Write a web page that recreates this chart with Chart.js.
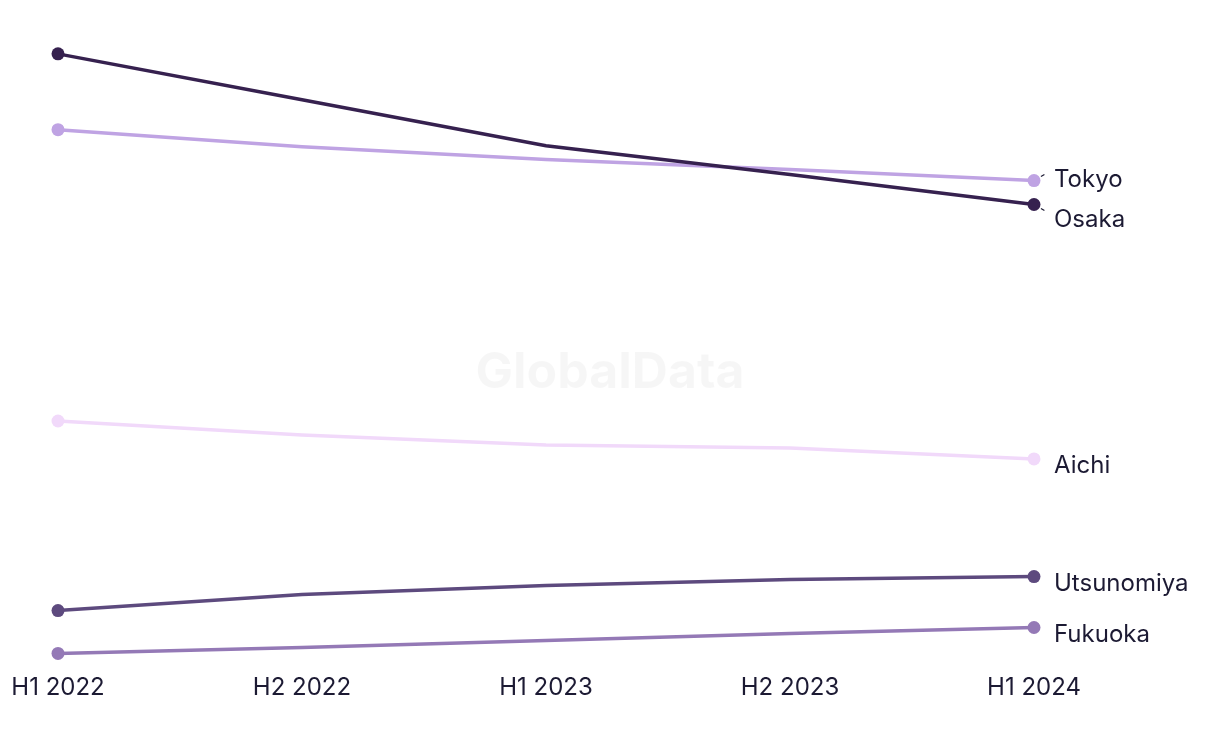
<!DOCTYPE html>
<html>
<head>
<meta charset="utf-8">
<script src="https://cdn.jsdelivr.net/npm/chart.js@4/dist/chart.umd.min.js"></script>
<style>
  html, body { margin: 0; padding: 0; background: #ffffff; }
  #wrap { width: 1220px; height: 744px; position: relative; }
</style>
</head>
<body>
<div id="wrap"><canvas id="c"></canvas></div>
<script>
const categories = ["H1 2022", "H2 2022", "H1 2023", "H2 2023", "H1 2024"];
const seriesNames = ["Osaka", "Tokyo", "Aichi", "Utsunomiya", "Fukuoka"];
const osaka = [612, 566, 520, 491, 461];
const tokyo = [536, 519, 506, 496, 485];
const aichi = [244, 230, 220, 217, 206];
const utsunomiya = [54, 70, 79, 85, 88];
const fukuoka = [11, 17, 24, 31, 37];
const seriesValues = [osaka, tokyo, aichi, utsunomiya, fukuoka];
const seriesColors = ["#36214f", "#bfa3e3", "#f1d9fa", "#5d4a7e", "#9479b6"];

const TEXT = "#1c1a33";
const FONT = "Inter, 'Noto Sans', sans-serif";

const watermark = {
  id: "watermark",
  beforeDatasetsDraw(chart) {
    const ctx = chart.ctx;
    ctx.save();
    ctx.font = "bold 50px " + FONT;
    ctx.fillStyle = "rgba(0,0,0,0.035)";
    ctx.textAlign = "center";
    ctx.textBaseline = "middle";
    ctx.fillText("GlobalData", chart.width / 2, 373);
    ctx.restore();
  }
};

const endLabels = {
  id: "endLabels",
  afterDatasetsDraw(chart) {
    const ctx = chart.ctx;
    const items = chart.data.datasets.map((ds, i) => {
      const meta = chart.getDatasetMeta(i);
      const pt = meta.data[meta.data.length - 1];
      return { label: ds.label, px: pt.x, py: pt.y, ly: pt.y };
    }).sort((a, b) => a.py - b.py);
    const gap = 40;
    for (let iter = 0; iter < 50; iter++) {
      let moved = false;
      for (let k = 1; k < items.length; k++) {
        const a = items[k - 1], b = items[k];
        if (b.ly - a.ly < gap) {
          const d = (gap - (b.ly - a.ly)) / 2;
          a.ly -= d; b.ly += d; moved = true;
        }
      }
      if (!moved) break;
    }
    ctx.save();
    ctx.font = "24px " + FONT;
    ctx.fillStyle = TEXT;
    ctx.textAlign = "left";
    ctx.textBaseline = "middle";
    items.forEach(it => {
      const lx = it.px + 20;
      const ly = it.ly + 7;
      if (Math.abs(it.ly - it.py) > 2) {
        const dx = 14, dy = (it.ly - it.py);
        const len = Math.sqrt(dx * dx + dy * dy);
        const ux = dx / len, uy = dy / len;
        ctx.strokeStyle = TEXT;
        ctx.lineWidth = 1.2;
        ctx.beginPath();
        ctx.moveTo(it.px + ux * 8, it.py + uy * 8);
        ctx.lineTo(it.px + ux * 12, it.py + uy * 12);
        ctx.stroke();
      }
      ctx.fillText(it.label, lx, ly);
    });
    ctx.restore();
  }
};

const datasets = seriesNames.map((name, i) => ({
  label: name,
  data: seriesValues[i],
  borderColor: seriesColors[i],
  backgroundColor: seriesColors[i],
  pointBackgroundColor: seriesColors[i],
  pointBorderColor: seriesColors[i],
  borderWidth: 3.5,
  pointRadius: (c) => (c.dataIndex === 0 || c.dataIndex === seriesValues[i].length - 1) ? 6.5 : 0,
  pointHoverRadius: 0,
  pointBorderWidth: 0,
  tension: 0,
  clip: false
}));

new Chart(document.getElementById("c"), {
  type: "line",
  data: { labels: categories, datasets: datasets },
  options: {
    responsive: true,
    maintainAspectRatio: false,
    animation: false,
    layout: { autoPadding: false, padding: { left: 58, right: 186, top: 1, bottom: 32.8 } },
    plugins: {
      legend: { display: false },
      tooltip: { enabled: false }
    },
    scales: {
      x: {
        grid: { display: false, drawTicks: false },
        border: { display: false },
        ticks: { color: TEXT, font: { family: FONT, size: 24 }, padding: 9, maxRotation: 0 }
      },
      y: {
        display: false,
        min: 0,
        max: 665
      }
    }
  },
  plugins: [watermark, endLabels]
});
</script>
</body>
</html>
